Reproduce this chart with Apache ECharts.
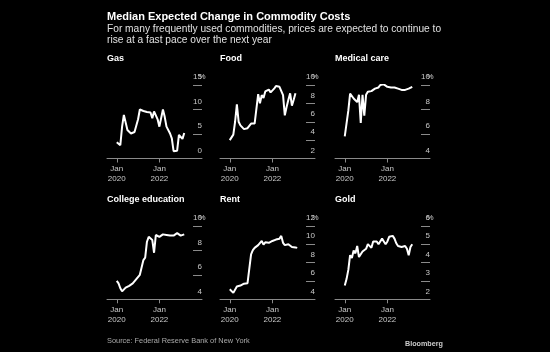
<!DOCTYPE html>
<html>
<head>
<meta charset="utf-8">
<script src="https://cdn.jsdelivr.net/npm/echarts@6/dist/echarts.min.js"></script>
<style>
  html, body { margin: 0; padding: 0; background: #000; }
  #main { width: 550px; height: 352px; }
</style>
</head>
<body>
<div id="main"></div>
<script>
// monthly readings, first point = Jan 2020
let gas = [3.3, 3.0, 2.7, 6.5, 8.9, 9.1, 5.8, 5.4, 5.1, 5.2, 5.4, 5.6, 8.0, 10.0, 10.2, 9.7, 9.6, 9.5, 9.3, 9.4,
    8.2, 9.6, 9.4, 8.0, 6.5, 6.3, 10.0, 8.5, 6.5, 6.8, 5.1, 4.1, 1.5, 1.2, 1.6, 4.8, 4.4, 4.0, 5.2];
let food = [4.0, 4.0, 4.6, 6.0, 7.9, 6.0, 5.6, 5.5, 5.2, 5.3, 5.3, 5.4, 5.8, 5.8, 5.8, 5.9, 9.0, 8.0, 8.9, 8.6,
    9.3, 9.5, 9.5, 9.2, 9.4, 9.6, 9.9, 9.8, 9.8, 9.75, 8.9, 6.7, 7.6, 8.4, 9.1, 7.75, 8.4, 9.1];
let medical = [5.8, 5.9, 7.9, 9.3, 9.45, 8.9, 9.0, 8.6, 9.2, 6.9, 9.2, 7.5, 9.2, 9.45, 9.6, 9.5, 9.55, 9.7, 9.85, 9.8,
    10.0, 9.85, 10.05, 9.9, 9.85, 9.8, 9.8, 9.85, 9.8, 9.7, 9.7, 9.7, 9.6, 9.5, 9.6, 9.65, 9.7, 9.8, 9.85];
let college = [5.5, 5.3, 4.9, 4.65, 4.7, 4.95, 5.0, 5.1, 5.15, 5.3, 5.45, 5.65, 5.8, 6.0, 6.1, 7.2, 7.4, 8.7, 9.1, 9.1,
    8.85, 7.8, 9.25, 9.3, 9.1, 9.25, 9.3, 9.25, 9.25, 9.2, 9.2, 9.2, 9.2, 9.25, 9.4, 9.25, 9.2, 9.3, 9.3];
let rent = [5.1, 5.1, 4.7, 4.9, 5.4, 5.5, 5.5, 5.6, 5.7, 5.8, 5.75, 5.9, 8.9, 9.35, 9.6, 9.75, 9.9, 10.0, 10.35, 9.95,
    10.2, 10.2, 10.15, 10.1, 10.35, 10.45, 10.5, 10.55, 10.6, 10.9, 10.15, 9.9, 9.95, 10.0, 9.85, 9.7, 9.7, 9.65, 9.6];
let gold = [2.75, 3.1, 3.6, 4.4, 4.25, 4.65, 4.5, 4.9, 4.3, 4.45, 4.6, 4.6, 4.75, 5.0, 4.9, 4.8, 5.15, 5.1, 5.15, 5.0,
    5.1, 5.3, 5.15, 5.0, 5.15, 5.4, 5.5, 5.45, 5.3, 5.05, 4.9, 4.9, 4.85, 4.95, 4.9, 4.75, 4.4, 4.85, 5.0];

let names = ['Gas', 'Food', 'Medical care', 'College education', 'Rent', 'Gold'];
let seriesData = [gas, food, medical, college, rent, gold];
let yMin = [0, 2, 4, 4, 4, 2];
let yMax = [15, 10, 10, 10, 12, 6];
let yStep = [5, 2, 2, 2, 2, 1];
let xTicks = [0, 24]; // Jan 2020, Jan 2022

let colLeft = [107, 220, 335];
let rowTop = [85, 225.8];
let titleTop = [54, 195];

let chart = echarts.init(document.getElementById('main'));

let grids = [], xAxes = [], yAxes = [], series = [];
let titles = [
    { text: 'Median Expected Change in Commodity Costs', left: 107, top: 10.5, padding: 0,
      textStyle: { color: '#fff', fontSize: 11, fontWeight: 'bold', fontFamily: 'Liberation Sans', lineHeight: 12 } },
    { text: 'For many frequently used commodities, prices are expected to continue to\nrise at a fast pace over the next year',
      left: 107, top: 23.3, padding: 0,
      textStyle: { color: '#e0e0e0', fontSize: 10.2, fontWeight: 'normal', fontFamily: 'Liberation Sans', lineHeight: 11.5 } },
    { text: 'Source: Federal Reserve Bank of New York', left: 107, top: 336, padding: 0,
      textStyle: { color: '#aaa', fontSize: 7.4, fontWeight: 'normal', fontFamily: 'Liberation Sans', lineHeight: 10 } },
    { text: 'Bloomberg', left: 405, top: 339.5, padding: 0,
      textStyle: { color: '#ccc', fontSize: 7.2, fontWeight: 'bold', fontFamily: 'Liberation Sans', lineHeight: 10 } }
];

for (let i = 0; i < 6; i++) {
    let col = i % 3, row = Math.floor(i / 3);
    titles.push({
        text: names[i], left: colLeft[col], top: titleTop[row], padding: 0,
        textStyle: { color: '#fff', fontSize: 9, fontWeight: 'bold', fontFamily: 'Liberation Sans', lineHeight: 10 }
    });
    grids.push({ left: colLeft[col], top: rowTop[row], width: 95, height: 73.5 });
    xAxes.push({
        type: 'value', gridIndex: i, min: -5.5, max: 48,
        axisLine: { show: true, onZero: false, lineStyle: { color: '#8a8a8a', width: 1 } },
        axisTick: { show: true, customValues: xTicks, length: 4, lineStyle: { color: '#8a8a8a' } },
        axisLabel: {
            customValues: xTicks, margin: 5, color: '#c8c8c8', fontSize: 8, lineHeight: 10.5,
            fontFamily: 'Liberation Sans',
            formatter: v => 'Jan\n' + (2020 + v / 12)
        },
        splitLine: { show: false }
    });
    yAxes.push({
        type: 'value', gridIndex: i, position: 'right',
        min: yMin[i], max: yMax[i], interval: yStep[i],
        axisLine: { show: false, onZero: false },
        axisTick: { show: true, inside: true, length: 9, lineStyle: { color: '#8a8a8a' } },
        axisLabel: {
            margin: 0, align: 'right', verticalAlign: 'bottom', padding: [0, 0, 4, 0],
            color: '#c8c8c8', fontSize: 8, lineHeight: 8, fontFamily: 'Liberation Sans',
            formatter: v => v === yMax[i] ? '{n|' + v + '}{p|%}' : String(v),
            rich: {
                n: { color: '#c8c8c8', fontSize: 8, lineHeight: 8, fontFamily: 'Liberation Sans' },
                p: { color: '#c8c8c8', fontSize: 8, lineHeight: 8, fontFamily: 'Liberation Sans', width: 0, align: 'left' }
            }
        },
        splitLine: { show: false }
    });
    series.push({
        type: 'line', xAxisIndex: i, yAxisIndex: i,
        showSymbol: false,
        lineStyle: { color: '#fff', width: 2 },
        data: seriesData[i].map((v, m) => [m, v])
    });
}

let option = {
    backgroundColor: '#000',
    animation: false,
    title: titles,
    grid: grids,
    xAxis: xAxes,
    yAxis: yAxes,
    series: series
};
chart.setOption(option);
</script>
</body>
</html>
